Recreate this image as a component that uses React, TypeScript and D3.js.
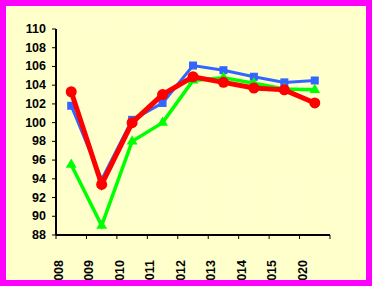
import React from "react";
import * as d3 from "d3";

const categories = ["2008", "2009", "2010", "2011", "2012", "2013", "2014", "2015", "2020"];
const blueValues = [101.8, 93.9, 100.3, 102.1, 106.1, 105.6, 104.9, 104.3, 104.5];
const greenValues = [95.5, 89.0, 98.0, 100.0, 104.5, 104.8, 104.2, 103.6, 103.5];
const redValues = [103.3, 93.4, 100.0, 103.0, 104.9, 104.3, 103.7, 103.5, 102.1];
const yTicks = [88, 90, 92, 94, 96, 98, 100, 102, 104, 106, 108, 110];

const W = 372;
const H = 286;
const left = 56;
const right = 330;
const top = 29;
const bottom = 235;

export default function App() {
  const x = d3.scaleBand<string>().domain(categories).range([left, right]);
  const y = d3.scaleLinear().domain([88, 110]).range([bottom, top]);
  const cx = (c: string) => (x(c) as number) + x.bandwidth() / 2;
  const line = d3
    .line<[string, number]>()
    .x((d) => cx(d[0]))
    .y((d) => y(d[1]));
  const pts = (vals: number[]) => categories.map((c, i) => [c, vals[i]] as [string, number]);
  const tri = d3.symbol(d3.symbolTriangle, 50)();
  const font = "'Liberation Sans', Arial, sans-serif";

  return (
    <svg
      width={W}
      height={H}
      style={{ position: "fixed", left: 0, top: 0, display: "block" }}
    >
      <rect x={0} y={0} width={W} height={H} fill="#FFFFCC" />
      {yTicks.map((t) => (
        <line
          key={"g" + t}
          x1={left}
          x2={W - 6}
          y1={y(t)}
          y2={y(t)}
          stroke="#ffffff"
          strokeOpacity={0.7}
          strokeDasharray="1 5"
        />
      ))}
      <line x1={left} x2={left} y1={top} y2={bottom} stroke="#000" strokeWidth={2} />
      {yTicks.map((t) => (
        <g key={"y" + t}>
          <line x1={left - 4} x2={left} y1={y(t)} y2={y(t)} stroke="#000" strokeWidth={1} />
          <text
            x={46}
            y={y(t)}
            textAnchor="end"
            dominantBaseline="central"
            fontFamily={font}
            fontWeight="bold"
            fontSize={12.5}
            fill="#000"
          >
            {t}
          </text>
        </g>
      ))}
      <line x1={left} x2={right} y1={bottom} y2={bottom} stroke="#000" strokeWidth={2} />
      {[...categories.map((c) => x(c) as number), right].map((p, i) => (
        <line key={"xt" + i} x1={p} x2={p} y1={bottom} y2={bottom + 4} stroke="#000" strokeWidth={1} />
      ))}
      {categories.map((c) => {
        const px = (x(c) as number) + 3;
        const py = 260;
        return (
          <text
            key={"xl" + c}
            transform={`translate(${px},${py}) rotate(-90)`}
            textAnchor="end"
            dominantBaseline="central"
            fontFamily={font}
            fontWeight="bold"
            fontSize={12.5}
            fill="#000"
          >
            {c}
          </text>
        );
      })}
      <path d={line(pts(blueValues)) as string} fill="none" stroke="#3366FF" strokeWidth={3} />
      {pts(blueValues).map((d, i) => (
        <rect key={"b" + i} x={cx(d[0]) - 4} y={y(d[1]) - 4} width={8} height={8} fill="#3366FF" />
      ))}
      <path d={line(pts(greenValues)) as string} fill="none" stroke="#00FF00" strokeWidth={3.5} />
      {pts(greenValues).map((d, i) => (
        <path key={"gp" + i} d={tri as string} transform={`translate(${cx(d[0])},${y(d[1])})`} fill="#00FF00" />
      ))}
      <path d={line(pts(redValues)) as string} fill="none" stroke="#FF0000" strokeWidth={5} />
      {pts(redValues).map((d, i) => (
        <circle key={"r" + i} cx={cx(d[0])} cy={y(d[1])} r={5.5} fill="#FF0000" />
      ))}
      <rect x={3} y={3} width={W - 6} height={H - 6} fill="none" stroke="#FF00FF" strokeWidth={6} />
      <rect x={0} y={281} width={W} height={5} fill="#FF00FF" />
    </svg>
  );
}
